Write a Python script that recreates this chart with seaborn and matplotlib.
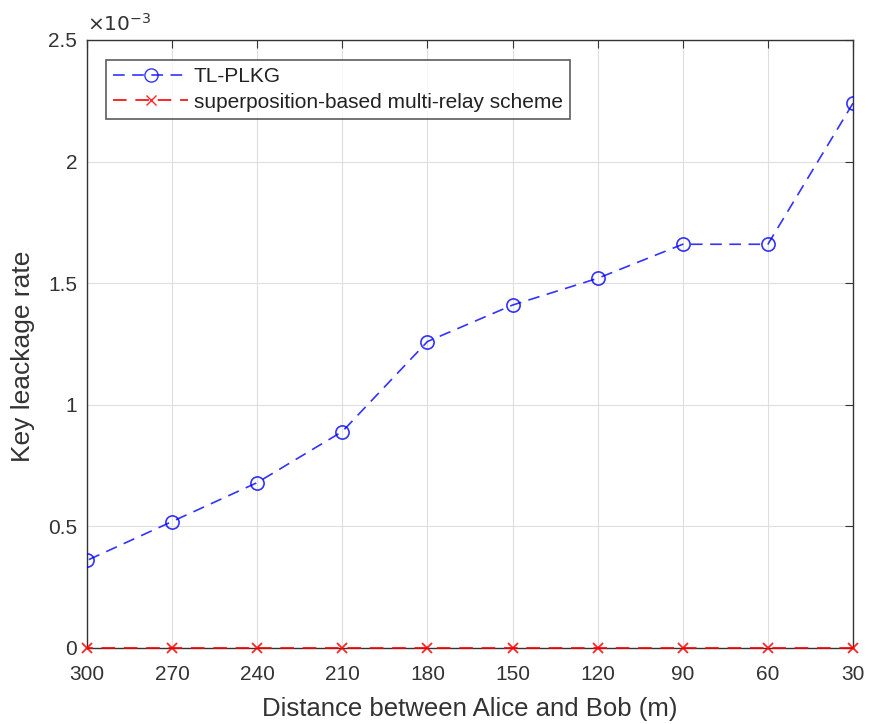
import matplotlib
matplotlib.use("Agg")
import matplotlib.pyplot as plt
import matplotlib.ticker as mticker
from matplotlib.lines import Line2D
import seaborn as sns

distance = [300, 270, 240, 210, 180, 150, 120, 90, 60, 30]
tl_plkg = [0.36e-3, 0.52e-3, 0.68e-3, 0.89e-3, 1.26e-3, 1.41e-3, 1.52e-3, 1.66e-3, 1.66e-3, 2.24e-3]
superposition = [0, 0, 0, 0, 0, 0, 0, 0, 0, 0]
labels = ["TL-PLKG", "superposition-based multi-relay scheme"]
y_ticks = [0, 0.5e-3, 1e-3, 1.5e-3, 2e-3, 2.5e-3]

sns.set_style("white")
plt.rcParams["font.family"] = ["Liberation Sans", "DejaVu Sans"]

fig = plt.figure(figsize=(8.69, 7.24), dpi=100)
ax = fig.add_axes([0.1001, 0.105, 0.8815, 0.8398])

dash = (0, (7, 4.5))
blue, red = "#0000ff", "#ff0000"
text_col = "#333333"

sns.lineplot(x=distance, y=tl_plkg, color=blue, marker="o", markersize=9.5,
             markerfacecolor="none", markeredgecolor=blue, markeredgewidth=1.2,
             linestyle=dash, linewidth=1.2, alpha=0.8, ax=ax, zorder=5)
sns.lineplot(x=distance, y=superposition, color=red, marker="x", markersize=7,
             markeredgecolor=red, markeredgewidth=1.3,
             linestyle=dash, linewidth=1.4, alpha=0.85, ax=ax, clip_on=False, zorder=6)

ax.set_xlim(300, 30)
ax.set_ylim(0, 2.5e-3)
ax.set_xticks(distance)
ax.set_yticks(y_ticks)
# tick labels in units of 1e-3, with the multiplier drawn above the axes
ax.yaxis.set_major_formatter(mticker.FuncFormatter(lambda v, p: f"{v * 1e3:g}"))
ax.text(0.0, 1.008, r"$\times10^{-3}$", transform=ax.transAxes, ha="left", va="bottom",
        fontsize=14.5, color=text_col)

ax.grid(True, color="#dedede", linewidth=0.8)
ax.set_axisbelow(True)
for sp in ax.spines.values():
    sp.set_color(text_col)
    sp.set_linewidth(1.0)
ax.tick_params(direction="in", length=6, width=0.8, colors=text_col,
               labelsize=15, top=True, right=True)
ax.tick_params(axis="x", pad=12)
ax.tick_params(axis="y", pad=7)

ax.set_xlabel("Distance between Alice and Bob (m)", fontsize=18.5, color=text_col)
ax.set_ylabel("Key leackage rate", fontsize=19, color=text_col)
ax.xaxis.set_label_coords(0.5, -0.081)
ax.yaxis.set_label_coords(-0.068, 0.479)

handles = [
    Line2D([], [], color=blue, linestyle=dash, linewidth=1.2, marker="o",
           markersize=9.5, markerfacecolor="none", markeredgecolor=blue, alpha=0.8),
    Line2D([], [], color=red, linestyle=dash, linewidth=1.4, marker="x",
           markersize=7, markeredgecolor=red, alpha=0.85),
]
leg = ax.legend(handles, labels, loc="upper left", bbox_to_anchor=(0.025, 0.967),
                fontsize=15, handlelength=3.6, frameon=True, fancybox=False,
                borderpad=0.35, labelspacing=0.3, handletextpad=0.25, borderaxespad=0)
leg.get_frame().set_edgecolor(text_col)
leg.get_frame().set_linewidth(1.2)
for t in leg.get_texts():
    t.set_color("#222222")

fig.savefig("out.png", dpi=100)
